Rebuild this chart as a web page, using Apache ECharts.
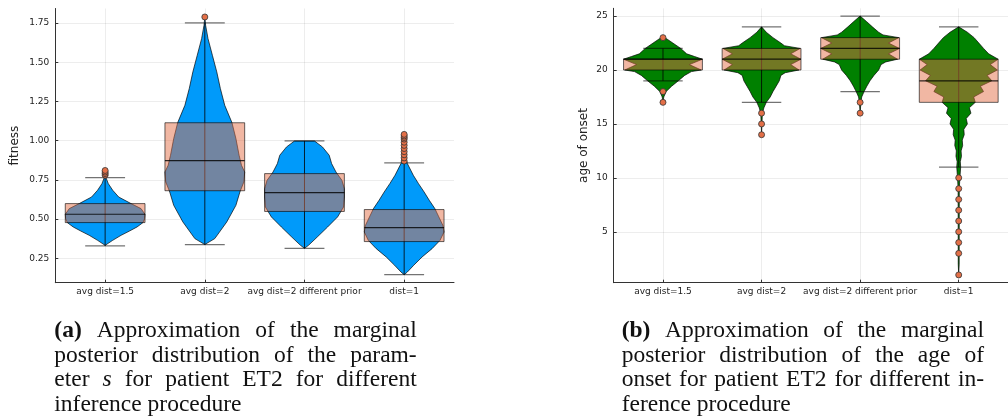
<!DOCTYPE html>
<html>
<head>
<meta charset="utf-8">
<script src="https://cdn.jsdelivr.net/npm/echarts@6/dist/echarts.min.js"></script>
<style>
  html, body { margin: 0; padding: 0; background: #fff; }
  #main { width: 1008px; height: 416px; }
</style>
</head>
<body>
<div id="main"></div>
<script>
// categories shared by both panels
const categories = ['avg dist=1.5', 'avg dist=2', 'avg dist=2 different prior', 'dist=1'];

// (a) fitness: tick labels, box stats [lowWhisker, q1, median, q3, highWhisker], outliers
const fitnessTicks = [0.25, 0.5, 0.75, 1.0, 1.25, 1.5, 1.75];
const fitnessBox = [
  [0.329, 0.478, 0.531, 0.599, 0.765],
  [0.338, 0.681, 0.873, 1.114, 1.75],
  [0.314, 0.549, 0.669, 0.79, 0.998],
  [0.146, 0.357, 0.446, 0.561, 0.858]
];
const fitnessOutliers = [
  [0.78, 0.79, 0.80, 0.81],
  [1.788],
  [],
  [0.87, 0.89, 0.91, 0.93, 0.95, 0.97, 0.99, 1.01, 1.02, 1.03, 1.04]
];
// violin profiles: [value, relative density]
const fitnessViolin1 = [[0.333,0],[0.365,0.19],[0.397,0.4],[0.424,0.61],[0.45,0.8],[0.478,0.95],[0.503,0.99],[0.531,1],[0.567,0.9],[0.599,0.65],[0.641,0.34],[0.684,0.19],[0.726,0.08],[0.765,0.02],[0.81,0]];
const fitnessViolin2 = [[0.338,0],[0.376,0.25],[0.482,0.55],[0.588,0.78],[0.673,0.88],[0.737,0.98],[0.80,1],[0.843,0.92],[0.907,0.86],[1.013,0.78],[1.115,0.68],[1.225,0.5],[1.332,0.39],[1.438,0.3],[1.544,0.19],[1.65,0.08],[1.735,0.02],[1.788,0]];
const fitnessViolin3 = [[0.314,0],[0.333,0.1],[0.386,0.32],[0.45,0.58],[0.514,0.83],[0.577,0.98],[0.641,1],[0.694,1],[0.747,0.94],[0.80,0.79],[0.854,0.68],[0.907,0.62],[0.96,0.45],[0.998,0.25]];
const fitnessViolin4 = [[0.146,0],[0.163,0.08],[0.206,0.24],[0.259,0.45],[0.312,0.7],[0.365,0.9],[0.418,1],[0.461,0.97],[0.514,0.87],[0.567,0.77],[0.62,0.63],[0.673,0.5],[0.726,0.36],[0.779,0.23],[0.854,0.08],[0.9,0.03],[1.04,0]];

// (b) age of onset
const onsetTicks = [5, 10, 15, 20, 25];
const onsetBox = [
  [19, 20, 21, 21, 22],
  [17, 20, 21, 22, 24],
  [18, 21, 22, 23, 25],
  [11, 17, 19, 21, 24]
];
const onsetOutliers = [
  [23, 18, 17],
  [16, 15, 14],
  [17, 16],
  [10, 9, 8, 7, 6, 5, 4, 3, 1]
];
const onsetViolin1 = [[17,0],[17.5,0.02],[18,0.08],[18.5,0.22],[19,0.39],[19.5,0.55],[19.85,0.72],[20,0.97],[20.5,0.67],[21,1],[21.25,0.8],[21.5,0.6],[22,0.45],[22.5,0.25],[23,0.05],[23.1,0]];
const onsetViolin2 = [[14,0],[15,0.01],[16,0.02],[16.5,0.06],[17,0.12],[17.5,0.22],[18,0.29],[18.5,0.37],[19,0.45],[19.5,0.49],[19.75,0.6],[20,0.95],[20.5,0.74],[21,1],[21.5,0.74],[22,0.98],[22.25,0.58],[22.5,0.49],[23,0.29],[23.5,0.12],[24,0]];
const onsetViolin3 = [[16,0],[17,0.02],[17.5,0.04],[18,0.1],[18.5,0.17],[19,0.25],[19.5,0.35],[20,0.47],[20.5,0.53],[20.75,0.65],[21,0.95],[21.5,0.72],[22,1],[22.5,0.72],[23,0.98],[23.25,0.58],[23.5,0.47],[24,0.31],[24.5,0.16],[25,0]];
const onsetViolin4 = [[1,0],[2,0.012],[9,0.015],[10,0.03],[11,0.05],[11.5,0.04],[12,0.07],[12.5,0.06],[13,0.1],[13.5,0.09],[14,0.14],[14.5,0.13],[15,0.22],[15.5,0.19],[16,0.31],[16.5,0.27],[17,0.42],[17.5,0.38],[18,0.63],[18.5,0.55],[19,0.84],[19.5,0.72],[20,0.98],[20.5,0.8],[21,1],[21.5,0.76],[22,0.63],[22.5,0.51],[23,0.39],[23.5,0.22],[24,0]];

const captionA = [
  [['(a)', 'bold'], 'Approximation', 'of', 'the', 'marginal'],
  ['posterior', 'distribution', 'of', 'the', 'param-'],
  ['eter', ['s', 'italic'], 'for', 'patient', 'ET2', 'for', 'different'],
  ['inference', 'procedure']
];
const captionB = [
  [['(b)', 'bold'], 'Approximation', 'of', 'the', 'marginal'],
  ['posterior', 'distribution', 'of', 'the', 'age', 'of'],
  ['onset', 'for', 'patient', 'ET2', 'for', 'different', 'in-'],
  ['ference', 'procedure']
];

var myChart = echarts.init(document.getElementById('main'), null, { renderer: 'canvas' });

const BOX_FILL = 'rgba(227,111,71,0.5)';
const SANS = 'DejaVu Sans';

function violinSeries(profiles, color, idx) {
  return {
    type: 'custom',
    xAxisIndex: idx, yAxisIndex: idx,
    data: profiles.map((p, i) => [i, p[0][0]]),
    renderItem: function (params, api) {
      var cat = api.value(0);
      var prof = profiles[cat];
      var half = api.size([1, 0])[0] * 0.4;
      var right = [], left = [];
      prof.forEach(function (pt) {
        var c = api.coord([cat, pt[0]]);
        right.push([c[0] + pt[1] * half, c[1]]);
        left.unshift([c[0] - pt[1] * half, c[1]]);
      });
      return {
        type: 'polygon',
        shape: { points: right.concat(left) },
        style: { fill: color, stroke: 'rgba(0,0,0,0.85)', lineWidth: 0.8 }
      };
    },
    z: 2
  };
}

function boxSeries(stats, idx) {
  return {
    type: 'custom',
    xAxisIndex: idx, yAxisIndex: idx,
    data: stats.map((s, i) => [i].concat(s)),
    renderItem: function (params, api) {
      var cat = api.value(0);
      var band = api.size([1, 0])[0];
      var lo = api.coord([cat, api.value(1)]);
      var q1 = api.coord([cat, api.value(2)]);
      var md = api.coord([cat, api.value(3)]);
      var q3 = api.coord([cat, api.value(4)]);
      var hi = api.coord([cat, api.value(5)]);
      var cx = lo[0], bw = band * 0.4, cw = band * 0.2;
      return {
        type: 'group',
        children: [
          { type: 'line', shape: { x1: cx, y1: lo[1], x2: cx, y2: hi[1] },
            style: { stroke: 'rgba(0,0,0,0.8)', lineWidth: 1 } },
          { type: 'rect', shape: { x: cx - bw, y: q3[1], width: 2 * bw, height: q1[1] - q3[1] },
            style: { fill: BOX_FILL, stroke: 'rgba(0,0,0,0.6)', lineWidth: 1 } },
          { type: 'line', shape: { x1: cx - bw, y1: md[1], x2: cx + bw, y2: md[1] },
            style: { stroke: 'rgba(0,0,0,0.8)', lineWidth: 1.2 } },
          { type: 'line', shape: { x1: cx - cw, y1: lo[1], x2: cx + cw, y2: lo[1] },
            style: { stroke: 'rgba(0,0,0,0.55)', lineWidth: 1.2 } },
          { type: 'line', shape: { x1: cx - cw, y1: hi[1], x2: cx + cw, y2: hi[1] },
            style: { stroke: 'rgba(0,0,0,0.55)', lineWidth: 1.2 } }
        ]
      };
    },
    z: 3
  };
}

function outlierSeries(outliers, idx) {
  var pts = [];
  outliers.forEach(function (arr, i) { arr.forEach(function (v) { pts.push([i, v]); }); });
  return {
    type: 'scatter',
    xAxisIndex: idx, yAxisIndex: idx,
    data: pts,
    symbolSize: 6,
    itemStyle: { color: '#E36F47', borderColor: '#333', borderWidth: 0.8, opacity: 1 },
    z: 4
  };
}

function xAxisOf(idx) {
  return {
    type: 'category', gridIndex: idx, data: categories, boundaryGap: true,
    axisLine: { show: true, lineStyle: { color: '#333', width: 1 } },
    axisTick: { show: true, inside: true, length: 3, alignWithLabel: true, interval: 0, lineStyle: { color: '#333' } },
    axisLabel: { interval: 0, fontSize: 9, fontFamily: SANS, color: '#222', margin: 4 },
    splitLine: { show: true, interval: 0, alignWithLabel: true, lineStyle: { color: 'rgba(0,0,0,0.07)' } }
  };
}

function yAxisOf(idx, min, max, ticks, name, gap, fmt) {
  return {
    type: 'value', gridIndex: idx, min: min, max: max,
    name: name, nameLocation: 'middle', nameRotate: 90, nameGap: gap,
    nameTextStyle: { fontSize: 12, fontFamily: SANS, color: '#222' },
    axisLine: { show: true, lineStyle: { color: '#333', width: 1 } },
    axisTick: { show: true, inside: true, length: 3, customValues: ticks, lineStyle: { color: '#333' } },
    axisLabel: { customValues: ticks, formatter: fmt, fontSize: 9, fontFamily: SANS, color: '#222', margin: 6 },
    splitLine: { show: true, lineStyle: { color: 'rgba(0,0,0,0.07)' } }
  };
}

// justified caption lines, words measured with the same font
const CAP_SIZE = 23.5, CAP_LINE = 24.4;
const measureCtx = document.createElement('canvas').getContext('2d');
function capFont(style) {
  var st = style === 'italic' ? 'italic' : 'normal';
  var wt = style === 'bold' ? 'bold' : 'normal';
  return st + ' ' + wt + ' ' + CAP_SIZE + 'px "Liberation Serif"';
}
function captionGraphics(lines, x0, x1, top) {
  var out = [];
  measureCtx.font = capFont('');
  var space = measureCtx.measureText(' ').width;
  lines.forEach(function (line, li) {
    var words = line.map(function (w) { return Array.isArray(w) ? w : [w, '']; });
    var widths = words.map(function (w) { measureCtx.font = capFont(w[1]); return measureCtx.measureText(w[0]).width; });
    var total = widths.reduce(function (a, b) { return a + b; }, 0);
    var last = li === lines.length - 1;
    var gap = last ? space : Math.max(space * 0.8, (x1 - x0 - total) / (words.length - 1));
    var x = x0;
    words.forEach(function (w, i) {
      out.push({
        type: 'text', x: x, y: top + li * CAP_LINE,
        style: {
          text: w[0], fontSize: CAP_SIZE, fontFamily: 'Liberation Serif',
          fontWeight: w[1] === 'bold' ? 'bold' : 'normal',
          fontStyle: w[1] === 'italic' ? 'italic' : 'normal',
          fill: '#111', align: 'left', verticalAlign: 'middle'
        }
      });
      x += widths[i] + gap;
    });
  });
  return out;
}

var option = {
  backgroundColor: '#fff',
  animation: false,
  grid: [
    { left: 55.3, top: 8.5, width: 398.7, height: 274.2 },
    { left: 613.7, top: 8.3, width: 405.3, height: 274.4 }
  ],
  xAxis: [xAxisOf(0), xAxisOf(1)],
  yAxis: [
    yAxisOf(0, 0.095, 1.842, fitnessTicks, 'fitness', 34, function (v) { return v.toFixed(2); }),
    yAxisOf(1, 0.28, 25.72, onsetTicks, 'age of onset', 24, function (v) { return String(v); })
  ],
  series: [
    violinSeries([fitnessViolin1, fitnessViolin2, fitnessViolin3, fitnessViolin4], '#009AFA', 0),
    boxSeries(fitnessBox, 0),
    outlierSeries(fitnessOutliers, 0),
    violinSeries([onsetViolin1, onsetViolin2, onsetViolin3, onsetViolin4], '#008000', 1),
    boxSeries(onsetBox, 1),
    outlierSeries(onsetOutliers, 1)
  ],
  graphic: captionGraphics(captionA, 54.3, 416.7, 331.3)
    .concat(captionGraphics(captionB, 621.7, 984, 331.3))
};

myChart.setOption(option);
</script>
</body>
</html>
